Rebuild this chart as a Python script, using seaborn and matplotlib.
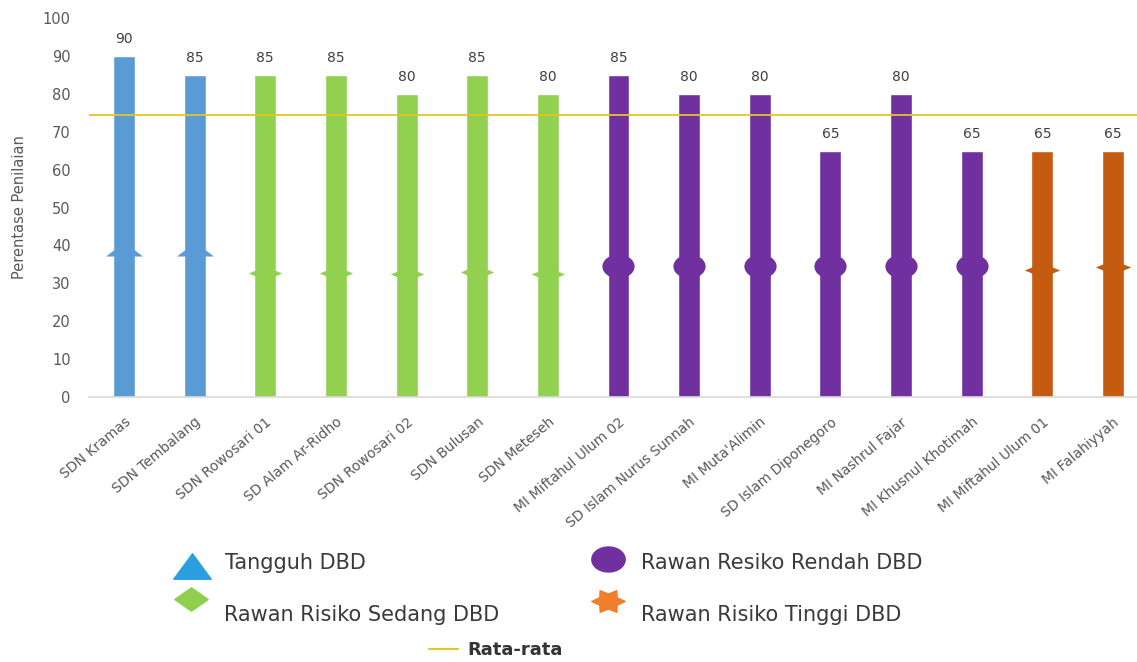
import numpy as np
import pandas as pd
import matplotlib
matplotlib.use("Agg")
import matplotlib.pyplot as plt
import seaborn as sns
from matplotlib.lines import Line2D
from matplotlib.path import Path
from matplotlib.legend_handler import HandlerLine2D

# ---------------- data ----------------
sekolah = ["SDN Kramas", "SDN Tembalang", "SDN Rowosari 01", "SD Alam Ar-Ridho",
           "SDN Rowosari 02", "SDN Bulusan", "SDN Meteseh", "MI Miftahul Ulum 02",
           "SD Islam Nurus Sunnah", "MI Muta'Alimin", "SD Islam Diponegoro",
           "MI Nashrul Fajar", "MI Khusnul Khotimah", "MI Miftahul Ulum 01",
           "MI Falahiyyah"]
nilai = [90, 85, 85, 85, 80, 85, 80, 85, 80, 80, 65, 80, 65, 65, 65]
kategori = (["Tangguh DBD"] * 2 + ["Rawan Risiko Sedang DBD"] * 5 +
            ["Rawan Resiko Rendah DBD"] * 6 + ["Rawan Risiko Tinggi DBD"] * 2)
penanda = [39, 39, 32.7, 32.7, 32.5, 33, 32.5, 34.6, 34.6, 34.6, 34.6, 34.6, 34.6, 33.5, 34.3]
rata_rata = 74.5

kategori_order = ["Tangguh DBD", "Rawan Risiko Sedang DBD",
                  "Rawan Resiko Rendah DBD", "Rawan Risiko Tinggi DBD"]
bar_colors = ["#5B9BD5", "#92D050", "#7030A0", "#C55A11"]
legend_colors = ["#2A9FE0", "#8ECF4E", "#7030A0", "#F07E2A"]
avg_color = "#E2C623"

df = pd.DataFrame({"sekolah": sekolah, "nilai": nilai,
                   "kategori": kategori, "penanda": penanda})

# ---------------- marker shapes ----------------
tri = Path([(-1, -0.38), (1, -0.38), (0, 0.38), (-1, -0.38)],
           [Path.MOVETO, Path.LINETO, Path.LINETO, Path.CLOSEPOLY])
dia = Path([(-1, 0), (0, 0.42), (1, 0), (0, -0.42), (-1, 0)],
           [Path.MOVETO, Path.LINETO, Path.LINETO, Path.LINETO, Path.CLOSEPOLY])
uc = Path.unit_circle()
ell = Path(uc.vertices * np.array([1.0, 0.74]), uc.codes)
ell_leg = Path(uc.vertices * np.array([1.0, 0.75]), uc.codes)
tri_leg = Path([(-1, -0.68), (1, -0.68), (0, 0.68), (-1, -0.68)],
               [Path.MOVETO, Path.LINETO, Path.LINETO, Path.CLOSEPOLY])
dia_leg = Path([(-1, 0), (0, 0.7), (1, 0), (0, -0.7), (-1, 0)],
               [Path.MOVETO, Path.LINETO, Path.LINETO, Path.LINETO, Path.CLOSEPOLY])


def star_path(rot, sy, inner=0.6):
    pts = []
    for k in range(12):
        r = 1.0 if k % 2 == 0 else inner
        a = np.deg2rad(rot + 30 * k)
        pts.append((r * np.cos(a), r * np.sin(a) * sy))
    pts.append(pts[0])
    codes = [Path.MOVETO] + [Path.LINETO] * 11 + [Path.CLOSEPOLY]
    return Path(pts, codes)


star_bar = star_path(0, 0.52, 0.66)
star_leg = star_path(0, 0.75, 0.6)
bar_markers = [tri, dia, ell, star_bar]
bar_msizes = [26.6, 24.0, 23.2, 25.5]


class ShiftedHandler(HandlerLine2D):
    def __init__(self, dy_pt, **kw):
        super().__init__(**kw)
        self.dy = dy_pt

    def create_artists(self, legend, orig_handle, xdescent, ydescent, width,
                       height, fontsize, trans):
        arts = super().create_artists(legend, orig_handle, xdescent, ydescent,
                                      width, height, fontsize, trans)
        for a in arts:
            a.set_ydata(np.asarray(a.get_ydata(), dtype=float) + self.dy)
        return arts


# ---------------- figure ----------------
sns.set_theme(style="white")
plt.rcParams["font.family"] = ["DejaVu Sans"]
W, H = 1137, 662
fig = plt.figure(figsize=(W / 100, H / 100), dpi=100)
ax = fig.add_axes([88.7 / W, 265 / H, (1148.3 - 88.7) / W, 379 / H])

sns.barplot(data=df, x="sekolah", y="nilai", hue="kategori", order=sekolah,
            hue_order=kategori_order, palette=bar_colors, dodge=False,
            width=0.31, saturation=1, legend=False, ax=ax, zorder=2)

for c in ax.containers:
    ax.bar_label(c, fmt="%g", padding=7, fontsize=10, color="#404040")

for k, mk, ms, col in zip(kategori_order, bar_markers, bar_msizes, bar_colors):
    sub = df[df["kategori"] == k]
    sns.stripplot(data=sub, x="sekolah", y="penanda", order=sekolah,
                  jitter=False, marker=mk, size=ms, color=col,
                  linewidth=0, ax=ax, zorder=3, legend=False)

ax.axhline(rata_rata, color=avg_color, lw=1.3, zorder=4)

ax.set_xlim(-0.5, 14.5)
ax.set_ylim(0, 100)
ax.set_yticks(range(0, 101, 10))
ax.tick_params(axis="y", length=0, pad=13, labelsize=10.5, labelcolor="#595959")
ax.tick_params(axis="x", length=0, pad=13, labelsize=10, labelcolor="#595959")
ax.set_xticks(range(len(sekolah)))
ax.set_xticklabels(sekolah, rotation=40, ha="right", rotation_mode="anchor")
ax.set_xlabel("")
ax.set_ylabel("Perentase Penilaian", fontsize=10.5, color="#595959", labelpad=11)
for s in ["top", "right", "left"]:
    ax.spines[s].set_visible(False)
ax.spines["bottom"].set_color("#D9D9D9")
ax.spines["bottom"].set_linewidth(1.2)
ax.grid(False)

# ---------------- legend ----------------
fs = 15
fs_px = fs * 100 / 72
hl = 1.5
handles = [
    Line2D([], [], ls="none", marker=tri_leg, markersize=27, color=legend_colors[0]),
    Line2D([], [], ls="none", marker=dia_leg, markersize=24, color=legend_colors[1]),
    Line2D([], [], ls="none", marker=ell_leg, markersize=24, color=legend_colors[2]),
    Line2D([], [], ls="none", marker=star_leg, markersize=24, color=legend_colors[3]),
]
# marker centre x px, marker centre y px, text centre y px
spots = [(192, 567, 563), (191, 600, 615), (608, 560, 563), (608, 602, 615)]
for h, lab, (mx, my, ty) in zip(handles, kategori_order, spots):
    dy_pt = (ty - my) * 0.72
    fig.legend([h], [lab], loc="center left",
               bbox_to_anchor=((mx - hl * fs_px / 2) / W, 1 - ty / H),
               frameon=False, fontsize=fs, handlelength=hl, handletextpad=0.84,
               borderpad=0, borderaxespad=0, labelcolor="#3A3A3A",
               handler_map={h: ShiftedHandler(dy_pt)})

fig.legend([Line2D([], [], color=avg_color, lw=1.5)], ["Rata-rata"],
           loc="center left", bbox_to_anchor=(429 / W, 1 - 650 / H),
           frameon=False, handlelength=1.6, handletextpad=0.55,
           borderpad=0, borderaxespad=0, labelcolor="#333333",
           prop={"weight": "bold", "size": 13})

fig.savefig("out.png", dpi=100)
